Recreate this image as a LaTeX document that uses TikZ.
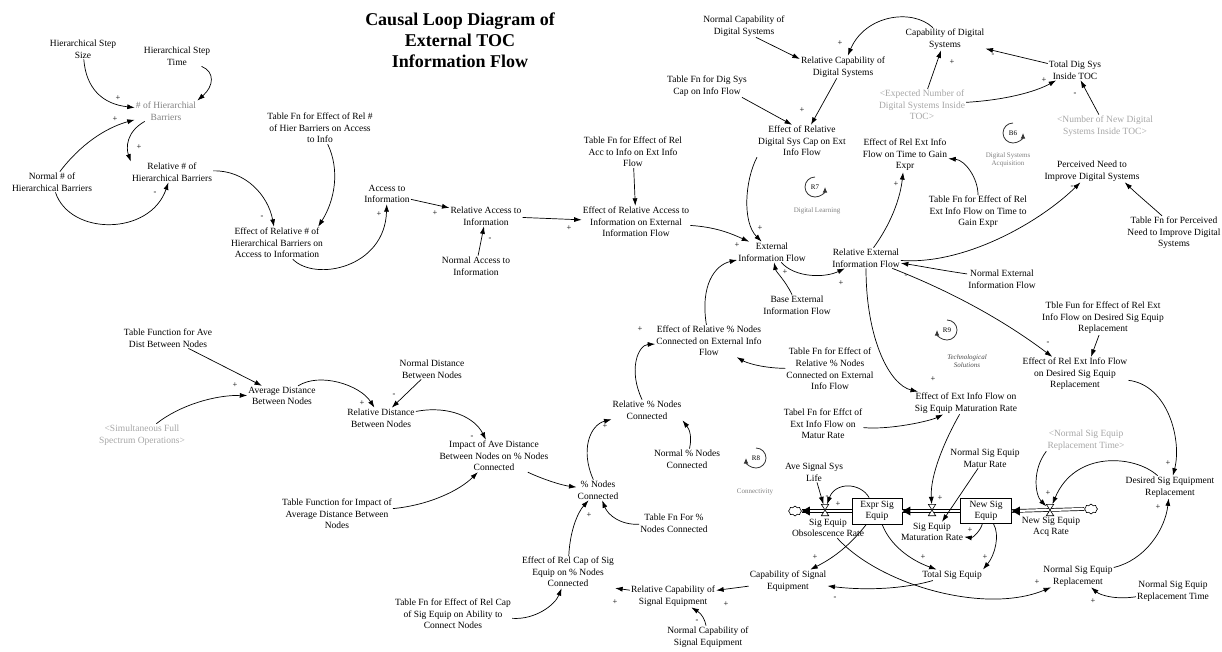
\documentclass[tikz,border=0pt]{standalone}
\usepackage{fontspec}
\setmainfont{Liberation Serif}
\usetikzlibrary{arrows.meta,shapes.symbols}
\newcommand\varfont{\fontsize{9.5}{11.6}\selectfont}
\newcommand\signfont{\fontsize{8.5}{8.5}\selectfont}
\newcommand\loopfont{\fontsize{7}{8.5}\selectfont}
\newcommand\titlefont{\fontsize{18}{21}\selectfont\bfseries}

\begin{document}
\begin{tikzpicture}[x=1pt,y=-1pt,
  var/.style={align=center,font=\varfont,inner sep=1pt},
  shadowvar/.style={var,text=black!35},
  arr/.style={-{Latex[length=7.5pt,width=5pt]},line width=0.7pt},
  looparr/.style={-{Latex[length=5.5pt,width=4.5pt]},line width=0.8pt,draw=black!80},
  sgn/.style={font=\signfont,inner sep=0pt},
  stockbox/.style={draw,line width=0.8pt,minimum width=50pt,minimum height=26pt,align=center,font=\varfont,inner sep=1pt,fill=white},
  valve/.style={minimum width=7pt,minimum height=11pt,inner sep=0pt},
  pipe/.style={double,double distance=2.2pt,line width=0.7pt},
  cloudshape/.style={cloud,cloud puffs=8,draw,line width=0.6pt,minimum width=13pt,minimum height=10pt,inner sep=0pt,fill=white},
  loopid/.style={font=\loopfont,inner sep=0pt},
  looplabel/.style={font=\loopfont,text=black!50,align=center,inner sep=0pt},
]
\useasboundingbox (0,0) rectangle (1222,651);

% ---------- title ----------
\node[align=center,font=\titlefont,inner sep=0pt] (title) at (460,40)
  {Causal Loop Diagram of\\External TOC\\Information Flow};

% ---------- hierarchical barriers ----------
\node[var] (hss) at (83,49) {Hierarchical Step\\Size};
\node[var] (hst) at (177,56) {Hierarchical Step\\Time};
\node[var,text=black!50] (nhb) at (166,111) {\# of Hierarchial\\Barriers};
\node[var] (rhb) at (172,172) {Relative \# of\\Hierarchical Barriers};
\node[var] (nrmhb) at (52,182) {Normal \# of\\Hierarchical Barriers};
\node[var] (tfrhb) at (320,128) {Table Fn for Effect of Rel \#\\of Hier Barriers on Access\\to Info};
\node[var] (effrhb) at (277,243) {Effect of Relative \# of\\Hierarchical Barriers on\\Access to Information};
\node[var] (acc) at (387,194) {Access to\\Information};
\node[var] (relacc) at (486,216) {Relative Access to\\Information};
\node[var] (nrmacc) at (476,266) {Normal Access to\\Information};
\node[var] (tfacc) at (633,152) {Table Fn for Effect of Rel\\Acc to Info on Ext Info\\Flow};
\node[var] (effacc) at (636,222) {Effect of Relative Access to\\Information on External\\Information Flow};

% ---------- digital systems ----------
\node[var] (nrmcapds) at (744,26) {Normal Capability of\\Digital Systems};
\node[var] (relcapds) at (843,67) {Relative Capability of\\Digital Systems};
\node[var] (tfdig) at (707,86) {Table Fn for Dig Sys\\Cap on Info Flow};
\node[var] (effds) at (802,141) {Effect of Relative\\Digital Sys Cap on Ext\\Info Flow};
\node[var] (capds) at (945,39) {Capability of Digital\\Systems};
\node[var] (totds) at (1075,70) {Total Dig Sys\\Inside TOC};
\node[shadowvar] (expds) at (922,105) {<Expected Number of\\Digital Systems Inside\\TOC>};
\node[shadowvar] (newds) at (1105,126) {<Number of New Digital\\Systems Inside TOC>};
\node[var] (efftime) at (905,155) {Effect of Rel Ext Info\\Flow on Time to Gain\\Expr};
\node[var] (tftime) at (978,212) {Table Fn for Effect of Rel\\Ext Info Flow on Time to\\Gain Expr};
\node[var] (need) at (1092,171) {Perceived Need to\\Improve Digital Systems};
\node[var] (tfneed) at (1174,233) {Table Fn for Perceived\\Need to Improve Digital\\Systems};

% ---------- external information flow ----------
\node[var] (ext) at (772,252) {External\\Information Flow};
\node[var] (base) at (797,305) {Base External\\Information Flow};
\node[var] (relext) at (866,258) {Relative External\\Information Flow};
\node[var] (nrmext) at (1002,279) {Normal External\\Information Flow};
\node[var] (effpct) at (709,341) {Effect of Relative \% Nodes\\Connected on External Info\\Flow};
\node[var] (tfpct) at (830,369) {Table Fn for Effect of\\Relative \% Nodes\\Connected on External\\Info Flow};
\node[var] (relpct) at (647,410) {Relative \% Nodes\\Connected};
\node[var] (nrmpct) at (687,459) {Normal \% Nodes\\Connected};
\node[var] (tfpctc) at (674,523) {Table Fn For \%\\Nodes Connected};
\node[var] (pct) at (598,490) {\% Nodes\\Connected};
\node[var] (tfrepl) at (1103,318) {Tble Fun for Effect of Rel Ext\\Info Flow on Desired Sig Equip\\Replacement};
\node[var] (effrepl) at (1075,374) {Effect of Rel Ext Info Flow\\on Desired Sig Equip\\Replacement};
\node[var] (effmat) at (966,403) {Effect of Ext Info Flow on\\Sig Equip Maturation Rate};
\node[var] (tfmat) at (823,424) {Tabel Fn for Effct of\\Ext Info Flow on\\Matur Rate};
\node[var] (nrmmat) at (985,458) {Normal Sig Equip\\Matur Rate};
\node[var] (avelife) at (814,472) {Ave Signal Sys\\Life};

% ---------- distance and connectivity ----------
\node[var] (tfave) at (168,338) {Table Function for Ave\\Dist Between Nodes};
\node[var] (avgdist) at (282,396) {Average Distance\\Between Nodes};
\node[shadowvar] (simfull) at (142,435) {<Simultaneous Full\\Spectrum Operations>};
\node[var] (nrmdist) at (432,369) {Normal Distance\\Between Nodes};
\node[var] (reldist) at (381,418) {Relative Distance\\Between Nodes};
\node[var] (impact) at (494,456) {Impact of Ave Distance\\Between Nodes on \% Nodes\\Connected};
\node[var] (tfimpact) at (337,514) {Table Function for Impact of\\Average Distance Between\\Nodes};
\node[var] (effcapsig) at (568,572) {Effect of Rel Cap of Sig\\Equip on \% Nodes\\Connected};
\node[var] (tfcapsig) at (453,614) {Table Fn for Effect of Rel Cap\\of Sig Equip on Ability to\\Connect Nodes};
\node[var] (relcapsig) at (673,596) {Relative Capability of\\Signal Equipment};
\node[var] (nrmcapsig) at (708,637) {Normal Capability of\\Signal Equipment};
\node[var] (capsig) at (788,581) {Capability of Signal\\Equipment};
\node[var] (totsig) at (952,575) {Total Sig Equip};

% ---------- signal equipment stocks and flows ----------
\node[cloudshape] (cloudL) at (795,511) {};
\node[cloudshape] (cloudR) at (1091,509) {};
\node[stockbox] (expr) at (877,511) {Expr Sig\\Equip};
\node[stockbox,minimum width=51pt,minimum height=25pt] (new) at (986,511) {New Sig\\Equip};
\node[valve] (vobs) at (825,510) {};
\node[valve] (vmat) at (932,510) {};
\node[valve] (vacq) at (1050,510) {};
\node[var] (lobs) at (828,528) {Sig Equip\\Obsolescence Rate};
\node[var] (lmat) at (932,532) {Sig Equip\\Maturation Rate};
\node[var] (lacq) at (1051,527) {New Sig Equip\\Acq Rate};
\node[shadowvar] (nrmrepltime) at (1086,440) {<Normal Sig Equip\\Replacement Time>};
\node[var] (desired) at (1170,487) {Desired Sig Equipment\\Replacement};
\node[var] (nrmrepl) at (1078,576) {Normal Sig Equip\\Replacement};
\node[var] (nrmrt) at (1173,591) {Normal Sig Equip\\Replacement Time};

% pipes
\draw[pipe] (expr.west) -- (cloudL.east);
\draw[pipe] (new.west) -- (expr.east);
\draw[pipe] (cloudR.west) -- (new.east);
\fill (cloudL.east) -- ++(8pt,4.5pt) -- ++(0pt,-9pt) -- cycle;
\fill (expr.east) -- ++(8pt,4.5pt) -- ++(0pt,-9pt) -- cycle;
\fill (new.east) -- ++(8pt,4.5pt) -- ++(0pt,-9pt) -- cycle;
% valves
\foreach \v in {vobs,vmat,vacq}
  \draw[fill=white,line width=0.6pt] (\v.north west) -- (\v.north east) -- (\v.south west) -- (\v.south east) -- cycle;

% ---------- loop markers ----------
\node[loopid] (r7) at (815,187) {R7};
\node[looplabel] (r7l) at (817,211) {Digital Learning};
\node[loopid] (b6) at (1013,133) {B6};
\node[looplabel] (b6l) at (1008,160) {Digital Systems\\Acquisition};
\node[loopid] (r9) at (947,330) {R9};
\node[looplabel,text=black!70,font=\loopfont\itshape] (r9l) at (967,361) {Technological\\Solutions};
\node[loopid] (r8) at (756,458) {R8};
\node[looplabel] (r8l) at (755,492) {Connectivity};
% loop arcs: open on the right for R7 and B6, on the left for R9 and R8
\begin{scope}[shift={(815,187)},y=1pt]
  \draw[looparr] (0,10) arc[start angle=90,end angle=360,radius=10];
\end{scope}
\begin{scope}[shift={(1013,133)},y=1pt]
  \draw[looparr] (0,10) arc[start angle=90,end angle=360,radius=10];
\end{scope}
\begin{scope}[shift={(947,330)},y=1pt]
  \draw[looparr] (0,10) arc[start angle=90,end angle=-180,radius=10];
\end{scope}
\begin{scope}[shift={(756,458)},y=1pt]
  \draw[looparr] (0,10) arc[start angle=90,end angle=-180,radius=10];
\end{scope}

% ---------- causal links ----------
\draw[arr] (hss) .. controls (86,88) and (102,104) .. (nhb);
\draw[arr] (hst) .. controls (215,72) and (214,86) .. (nhb.north east);
\draw[arr] (nrmhb) .. controls (80,145) and (105,128) .. (nhb);
\draw[arr] ([xshift=10pt]nhb.south west) .. controls (126,132) and (126,148) .. (rhb.north west);
\draw[arr] (nrmhb) .. controls (70,236) and (150,236) .. (rhb);
\draw[arr] (rhb) .. controls (245,170) and (268,195) .. (effrhb);
\draw[arr] (tfrhb) .. controls (340,170) and (335,200) .. ([xshift=-6pt]effrhb.north east);
\draw[arr] (effrhb) .. controls (315,282) and (385,268) .. (acc);
\draw[arr] (acc) -- (relacc);
\draw[arr] (relacc) -- (effacc);
\draw[arr] (nrmacc) -- (relacc);
\draw[arr] (tfacc) -- (effacc);
\draw[arr] (effacc) .. controls (715,227) and (730,233) .. (ext);
\draw[arr] (effds.south west) .. controls (745,180) and (742,222) .. (ext);
\draw[arr] (ext) .. controls (795,278) and (825,278) .. (relext);
\draw[arr] (base) .. controls (785,280) and (776,272) .. (ext);
\draw[arr] (nrmext) .. controls (940,270) and (920,266) .. (relext);
\draw[arr] (relext) .. controls (890,225) and (900,200) .. (efftime);
\draw[arr] (relext) .. controls (965,265) and (1040,222) .. (need);
\draw[arr] (relext) .. controls (960,295) and (1010,325) .. (effrepl);
\draw[arr] ([xshift=-4pt]tfrepl.south) -- ([xshift=16pt]effrepl.north);
\draw[arr] (effrepl) .. controls (1168,385) and (1182,440) .. (desired);
\draw[arr] (relext) .. controls (866,340) and (890,385) .. (effmat);
\draw[arr] (tfmat) .. controls (890,430) and (930,421) .. (effmat);
\draw[arr] (effmat) .. controls (945,440) and (930,475) .. (vmat);
\draw[arr] (nrmmat) -- ([xshift=10pt]lmat.north);
\draw[arr] (expr) .. controls (860,482) and (835,482) .. (vobs);
\draw[arr] (avelife) -- (vobs);
\draw[arr] (expr) .. controls (890,545) and (910,560) .. (totsig);
\draw[arr] (new) .. controls (1000,535) and (995,555) .. (totsig.north east);
\draw[arr] (new) .. controls (980,532) and (972,538) .. (lmat);
\draw[arr] (lobs) .. controls (880,585) and (985,615) .. (nrmrepl);
\draw[arr] (totsig) .. controls (900,590) and (860,590) .. (capsig);
\draw[arr] (expr) .. controls (850,545) and (835,557) .. (capsig);
\draw[arr] (capsig) -- (relcapsig);
\draw[arr] (nrmcapsig) .. controls (705,620) and (702,614) .. (relcapsig);
\draw[arr] (relcapsig) -- (effcapsig.south east);
\draw[arr] (tfcapsig) .. controls (535,620) and (555,605) .. (effcapsig);
\draw[arr] (effcapsig) .. controls (570,530) and (578,512) .. (pct);
\draw[arr] (tfpctc) .. controls (620,525) and (608,515) .. (pct);
\draw[arr] (impact) .. controls (540,478) and (560,485) .. (pct);
\draw[arr] (tfimpact) .. controls (430,505) and (460,490) .. (impact);
\draw[arr] (reldist) .. controls (450,405) and (475,418) .. (impact);
\draw[arr] (nrmdist) -- (reldist);
\draw[arr] (avgdist) .. controls (320,372) and (360,385) .. (reldist);
\draw[arr] (tfave) -- (avgdist);
\draw[arr] (simfull) .. controls (180,405) and (215,395) .. (avgdist);
\draw[arr] (pct) .. controls (580,450) and (590,425) .. (relpct);
\draw[arr] (nrmpct) .. controls (692,438) and (690,430) .. (relpct.south east);
\draw[arr] (relpct) .. controls (628,370) and (638,345) .. (effpct);
\draw[arr] (effpct) .. controls (700,285) and (715,265) .. (ext);
\draw[arr] (tfpct) .. controls (760,368) and (745,362) .. (effpct);
\draw[arr] ([xshift=-6pt]tfdig.south east) -- ([xshift=-10pt]effds.north);
\draw[arr] (relcapds) -- (effds);
\draw[arr] ([xshift=12pt]nrmcapds.south) -- ([yshift=8pt]relcapds.west);
\draw[arr] (capds) .. controls (912,8) and (865,15) .. (relcapds);
\draw[arr] (totds) -- (capds);
\draw[arr] (expds) -- (capds);
\draw[arr] (expds) .. controls (1005,100) and (1035,92) .. (totds);
\draw[arr] (newds) -- (totds);
\draw[arr] (tftime) .. controls (978,178) and (965,160) .. (efftime);
\draw[arr] ([xshift=-12pt]tfneed.north) .. controls (1150,205) and (1138,195) .. ([xshift=-16pt]need.south east);
\draw[arr] (nrmrepltime.south west) .. controls (1032,470) and (1035,495) .. (vacq);
\draw[arr] (desired) .. controls (1135,455) and (1075,450) .. (vacq);
\draw[arr] (nrmrepl) .. controls (1145,560) and (1165,530) .. (desired);
\draw[arr] (nrmrt) .. controls (1115,600) and (1100,595) .. (nrmrepl);

% ---------- link polarities ----------
\foreach \x/\y/\s [count=\i] in {
  118/98/+, 115/119/+, 139/147/+, 155/193/-, 262/217/-, 379/214/+,
  435/213/+, 569/228/+, 490/239/-, 737/245/+, 760/228/+, 841/283/+,
  785/272/+, 906/276/-, 896/184/+, 1072/187/-, 1048/343/-, 1168/463/+,
  933/379/+, 940/498/+, 838/504/+, 827/497/-, 923/557/+, 985/557/+,
  970/530/+, 1037/582/+, 835/598/-, 815/557/+, 726/604/+, 697/621/-,
  615/602/+, 589/515/+, 605/426/+, 640/329/+, 472/437/-, 394/395/-,
  362/403/+, 235/385/+, 802/110/+, 840/43/+, 993/55/-, 952/62/+,
  1044/80/+, 1075/94/-, 1048/493/+, 1158/507/+, 1093/601/+}
  \node[sgn] (sign\i) at (\x,\y) {\s};

\end{tikzpicture}
\end{document}
